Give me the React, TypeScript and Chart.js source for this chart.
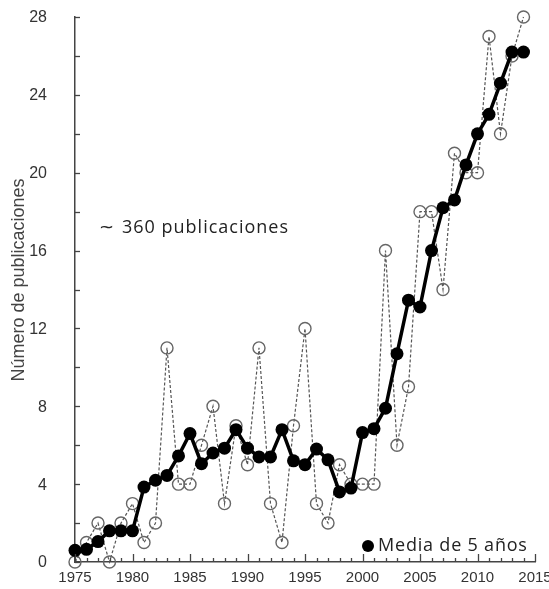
import React, { useEffect, useRef } from "react";
import { Chart, registerables } from "chart.js";

Chart.register(...registerables);

const years = [
  1975, 1976, 1977, 1978, 1979, 1980, 1981, 1982, 1983, 1984,
  1985, 1986, 1987, 1988, 1989, 1990, 1991, 1992, 1993, 1994,
  1995, 1996, 1997, 1998, 1999, 2000, 2001, 2002, 2003, 2004,
  2005, 2006, 2007, 2008, 2009, 2010, 2011, 2012, 2013, 2014,
];

const annualPublications = [
  0, 1, 2, 0, 2, 3, 1, 2, 11, 4,
  4, 6, 8, 3, 7, 5, 11, 3, 1, 7,
  12, 3, 2, 5, 4, 4, 4, 16, 6, 9,
  18, 18, 14, 21, 20, 20, 27, 22, 26, 28,
];

const fiveYearMean = [
  0.6, 0.65, 1.05, 1.6, 1.6, 1.6, 3.85, 4.2, 4.45, 5.45,
  6.6, 5.05, 5.6, 5.85, 6.8, 5.85, 5.4, 5.4, 6.8, 5.2,
  5.0, 5.8, 5.25, 3.6, 3.8, 6.65, 6.85, 7.9, 10.7, 13.45,
  13.1, 16.0, 18.2, 18.6, 20.4, 22.0, 23.0, 24.6, 26.2, 26.2,
];

const yTickLabels = [0, 4, 8, 12, 16, 20, 24, 28];
const xTickLabels = [1975, 1980, 1985, 1990, 1995, 2000, 2005, 2010, 2015];

const yTitle = "Número de publicaciones";
const totalTilde = "~";
const totalText = "360 publicaciones";
const legendText = "Media de 5 años";

const textPlugin = {
  id: "customText",
  afterDraw(chart: any) {
    const { ctx, chartArea } = chart;
    const xs = chart.scales.x;
    const ys = chart.scales.y;
    ctx.save();
    // inner ticks on y
    ctx.strokeStyle = "#444";
    ctx.lineWidth = 1.3;
    for (let v = 0; v <= 28; v += 2) {
      const py = Math.round(ys.getPixelForValue(v)) + 0.5;
      ctx.beginPath();
      ctx.moveTo(chartArea.left, py);
      ctx.lineTo(chartArea.left + 5, py);
      ctx.stroke();
    }
    // inner ticks on x
    for (let v = 1975; v <= 2015; v += 1) {
      const px = Math.round(xs.getPixelForValue(v)) + 0.5;
      const len = v % 5 === 0 ? 8 : 4;
      ctx.beginPath();
      ctx.moveTo(px, chartArea.bottom);
      ctx.lineTo(px, chartArea.bottom - len);
      ctx.stroke();
    }
    // y tick labels
    ctx.fillStyle = "#333";
    ctx.font = "16px 'Liberation Sans', Arial, sans-serif";
    ctx.textAlign = "right";
    ctx.textBaseline = "middle";
    yTickLabels.forEach((v) => {
      ctx.fillText(String(v), chartArea.left - 28, ys.getPixelForValue(v) + 1);
    });
    // x tick labels
    ctx.font = "15px 'Liberation Sans', Arial, sans-serif";
    ctx.textAlign = "center";
    ctx.textBaseline = "top";
    xTickLabels.forEach((v) => {
      ctx.fillText(String(v), xs.getPixelForValue(v), chartArea.bottom + 8);
    });
    // y title
    ctx.save();
    ctx.translate(19, 280);
    ctx.rotate(-Math.PI / 2);
    ctx.fillStyle = "#444";
    ctx.font = "18px 'Liberation Sans', Arial, sans-serif";
    ctx.textAlign = "center";
    ctx.textBaseline = "middle";
    ctx.fillText(yTitle, 0, 0);
    ctx.restore();
    // total annotation
    ctx.fillStyle = "#222";
    ctx.textAlign = "left";
    ctx.textBaseline = "middle";
    ctx.font = "18px 'DejaVu Sans', sans-serif";
    ctx.fillText(totalTilde, 99, 228);
    ctx.font = "18px 'Open Sans', sans-serif";
    (ctx as any).letterSpacing = "1px";
    ctx.fillText(totalText, 122, 228);
    // legend
    ctx.fillStyle = "#000";
    ctx.beginPath();
    ctx.arc(368, 546, 6, 0, Math.PI * 2);
    ctx.fill();
    ctx.fillStyle = "#222";
    (ctx as any).letterSpacing = "0.8px";
    ctx.fillText(legendText, 378, 546);
    (ctx as any).letterSpacing = "0px";
    ctx.restore();
  },
};

export default function App() {
  const ref = useRef<HTMLCanvasElement | null>(null);
  useEffect(() => {
    if (!ref.current) return;
    const chart = new Chart(ref.current, {
      type: "line",
      data: {
        datasets: [
          {
            label: legendText,
            data: years.map((yr, i) => ({ x: yr, y: fiveYearMean[i] })),
            borderColor: "#000",
            backgroundColor: "#000",
            borderWidth: 3.5,
            pointRadius: 6.5,
            pointBorderWidth: 0,
            pointBackgroundColor: "#000",
            order: 0,
            clip: false,
          },
          {
            label: "Anual",
            data: years.map((yr, i) => ({ x: yr, y: annualPublications[i] })),
            borderColor: "#555",
            borderWidth: 1.2,
            borderDash: [3, 2],
            pointRadius: 6,
            pointBorderWidth: 1.4,
            pointBorderColor: "#666",
            pointBackgroundColor: "rgba(255,255,255,0)",
            order: 1,
            clip: false,
          },
        ],
      },
      options: {
        responsive: false,
        animation: false,
        layout: { padding: { left: 0, right: 14, top: 17, bottom: 0 } },
        plugins: { legend: { display: false }, tooltip: { enabled: false } },
        scales: {
          x: {
            type: "linear",
            min: 1975,
            max: 2015,
            ticks: { display: false, stepSize: 5 },
            grid: { display: false, drawTicks: false },
            border: { display: true, color: "#444", width: 1.5 },
            afterFit: (s: any) => {
              s.height = 27;
            },
          },
          y: {
            min: 0,
            max: 28,
            ticks: { display: false, stepSize: 4 },
            grid: { display: false, drawTicks: false },
            border: { display: true, color: "#444", width: 1.5 },
            afterFit: (s: any) => {
              s.width = 75;
            },
          },
        },
      },
      plugins: [textPlugin],
    });
    return () => chart.destroy();
  }, []);
  return (
    <div style={{ position: "fixed", left: 0, top: 0, width: 549, height: 589, background: "#fff" }}>
      <canvas ref={ref} width={549} height={589} />
    </div>
  );
}
